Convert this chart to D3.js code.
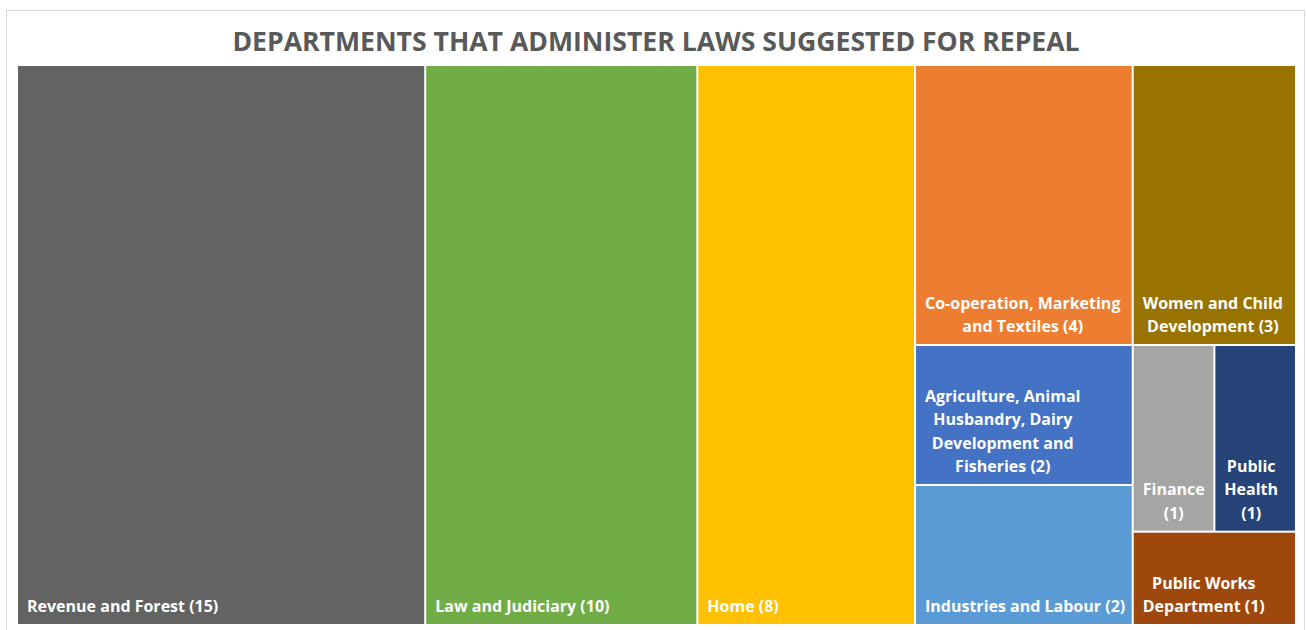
<!DOCTYPE html>
<html>
<head>
<meta charset="utf-8">
<script src="https://cdn.jsdelivr.net/npm/d3@7"></script>
<style>
  html, body { margin: 0; padding: 0; background: #fff; }
  svg { display: block; }
</style>
</head>
<body>
<svg id="chart" width="1306" height="630"></svg>
<script>
// ---- data ----
const title = "DEPARTMENTS THAT ADMINISTER LAWS SUGGESTED FOR REPEAL";
const departments = [
  "Revenue and Forest",
  "Law and Judiciary",
  "Home",
  "Co-operation, Marketing and Textiles",
  "Agriculture, Animal Husbandry, Dairy Development and Fisheries",
  "Industries and Labour",
  "Women and Child Development",
  "Finance",
  "Public Health",
  "Public Works Department"
];
const lawCounts = [15, 10, 8, 4, 2, 2, 3, 1, 1, 1];
const labelLines = [
  ["Revenue and Forest (15)"],
  ["Law and Judiciary (10)"],
  ["Home (8)"],
  ["Co-operation, Marketing", "and Textiles (4)"],
  ["Agriculture, Animal", "Husbandry, Dairy", "Development and", "Fisheries (2)"],
  ["Industries and Labour (2)"],
  ["Women and Child", "Development (3)"],
  ["Finance", "(1)"],
  ["Public", "Health", "(1)"],
  ["Public Works", "Department (1)"]
];
const colors = ["#636363", "#70AD47", "#FFC000", "#ED7D31", "#4472C4", "#5B9BD5",
                "#997300", "#A5A5A5", "#264478", "#9E480E"];
// grouping of the tiles (as laid out by the original chart): dice = side by side, slice = stacked
const grouping = ["dice", 0, 1, 2, ["slice", 3, 4, 5], ["slice", 6, ["slice", ["dice", 7, 8], 9]]];

// ---- build hierarchy ----
function build(g) {
  if (typeof g === "number") return { idx: g, name: departments[g], value: lawCounts[g] };
  return { tile: g[0], children: g.slice(1).map(build) };
}
const root = d3.hierarchy(build(grouping)).sum(d => d.value || 0);

const svg = d3.select("#chart");
const plot = { x0: 18, y0: 66, x1: 1295, y1: 624 };

// frame
svg.append("rect").attr("x", 6.5).attr("y", 10.5).attr("width", 1298).attr("height", 640)
  .attr("fill", "#fff").attr("stroke", "#d9d9d9").attr("stroke-width", 1);

// title
svg.append("text").attr("x", 656).attr("y", 51).attr("text-anchor", "middle")
  .attr("font-family", "'Open Sans', sans-serif").attr("font-weight", 700)
  .attr("font-size", 26.6).attr("fill", "#595959").text(title);

const tile = (node, x0, y0, x1, y1) =>
  (node.data.tile === "dice" ? d3.treemapDice : d3.treemapSlice)(node, x0, y0, x1, y1);

d3.treemap().tile(tile).size([plot.x1 - plot.x0, plot.y1 - plot.y0])
  .paddingInner(2).round(false)(root);

const g = svg.append("g").attr("transform", `translate(${plot.x0},${plot.y0})`);
const leaves = g.selectAll("g.leaf").data(root.leaves()).join("g").attr("class", "leaf");

leaves.append("rect")
  .attr("x", d => d.x0).attr("y", d => d.y0)
  .attr("width", d => d.x1 - d.x0).attr("height", d => d.y1 - d.y0)
  .attr("fill", d => colors[d.data.idx]);

const lineH = 23.5;
leaves.each(function (d) {
  const lines = labelLines[d.data.idx];
  const t = d3.select(this).append("text")
    .attr("font-family", "'Open Sans', sans-serif").attr("font-weight", 700)
    .attr("font-size", 16).attr("fill", "#fff");
  const spans = lines.map((l, i) => t.append("tspan").text(l));
  const widths = spans.map(s => s.node().getComputedTextLength());
  const bw = d3.max(widths);
  const cx = d.x0 + 9 + bw / 2;
  const lastBase = d.y1 - 12;
  spans.forEach((s, i) => {
    s.attr("x", cx).attr("text-anchor", "middle")
     .attr("y", lastBase - (lines.length - 1 - i) * lineH);
  });
});
</script>
</body>
</html>
